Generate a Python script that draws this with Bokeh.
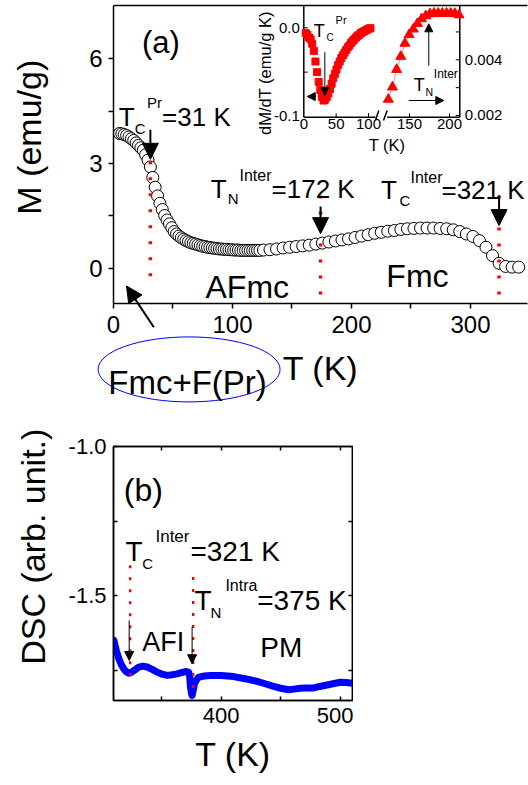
import math
from bokeh.plotting import figure
from bokeh.models import Range1d, FixedTicker, LinearAxis, Label, Arrow, NormalHead
from bokeh.layouts import column
from bokeh.embed import file_html
from bokeh.resources import INLINE
from bokeh.core.properties import value

FONT = "Liberation Sans"

# ---------------- data: panel (a)  M (emu/g) vs T (K) ----------------
T_a = [5, 7, 9, 11, 13, 15, 17, 19, 21, 23, 25, 27, 29, 31, 33, 35, 37, 39, 41, 43,
       45, 47, 49, 51, 53, 55, 57, 59, 61, 63, 65, 67, 69, 71, 73, 75, 77, 79, 81, 83,
       85, 87, 89, 91, 93, 95, 97, 99, 101, 103, 105, 107, 109, 111, 113, 115, 117, 119, 121, 123,
       126, 131.5, 137, 142.5, 148, 153.5, 159, 164.5, 170, 175.5, 181, 186.5, 192, 197.5, 203,
       208.5, 214, 219.5, 225, 230.5, 236, 241.5, 247, 252.5, 258, 263.5, 269, 274.5, 280, 285.5,
       291, 296.5, 302, 307.5, 313, 318.5, 324, 329.5, 335, 340.5]
M_a = [3.86, 3.85, 3.83, 3.80, 3.76, 3.71, 3.66, 3.59, 3.52, 3.45, 3.38, 3.25, 3.10, 2.90, 2.60, 2.32, 2.07, 1.86, 1.68, 1.51,
       1.38, 1.27, 1.16, 1.05, 0.98, 0.92, 0.87, 0.83, 0.79, 0.76, 0.73, 0.71, 0.69, 0.67, 0.65, 0.63, 0.62, 0.60, 0.59, 0.58,
       0.57, 0.56, 0.55, 0.55, 0.54, 0.54, 0.53, 0.53, 0.52, 0.52, 0.52, 0.51, 0.51, 0.51, 0.51, 0.51, 0.51, 0.51, 0.51, 0.51,
       0.52, 0.53, 0.55, 0.58, 0.60, 0.62, 0.64, 0.66, 0.69, 0.72, 0.75, 0.78, 0.81, 0.84, 0.88,
       0.92, 0.96, 1.00, 1.03, 1.06, 1.08, 1.11, 1.13, 1.14, 1.15, 1.15, 1.15, 1.14, 1.13, 1.10,
       1.05, 0.98, 0.91, 0.79, 0.60, 0.36, 0.14, 0.05, 0.03, 0.03]

# inset: dM/dT (left axis, squares) and right-axis series (triangles)
T_sq = [3, 5.5, 8, 10.5, 13, 15.5, 18, 20.5, 23, 25.5, 28, 30.5, 33, 35.5, 38, 40.5, 43, 45.5, 48, 50.5,
        53, 55.5, 58, 60.5, 63, 65.5, 68, 70.5, 73, 75.5, 78, 80.5, 83, 85.5, 88, 90.5, 93, 95.5, 98, 100.5, 103]
dMdT_sq = [-0.006, -0.008, -0.011, -0.013, -0.018, -0.026, -0.038, -0.050, -0.061, -0.070,
           -0.078, -0.082, -0.081, -0.078, -0.074, -0.069, -0.063, -0.057, -0.052, -0.047,
           -0.042, -0.038, -0.034, -0.031, -0.028, -0.025, -0.022, -0.020, -0.017, -0.015,
           -0.013, -0.011, -0.009, -0.008, -0.006, -0.005, -0.004, -0.003, -0.002, -0.001, -0.0005]
T_tri = [123.5, 128.7, 133.9, 139.1, 144.3, 149.5, 154.7, 159.9, 165.1, 170.3, 175.5, 180.7,
         185.9, 191.1, 196.3, 201.5, 206.7, 211.9]
val_tri = [0.00258, 0.00302, 0.00365, 0.00412, 0.00459, 0.00490, 0.00510, 0.00530, 0.00547, 0.00558,
           0.00565, 0.00567, 0.00567, 0.00567, 0.00567, 0.00567, 0.00566, 0.00561]

# ---------------- data: panel (b)  DSC vs T (K) ----------------
T_b = [309.8, 312, 314, 316, 318.2, 320, 322.4, 324.5, 326.6, 328.7,
       330.8, 334, 337.8, 342, 346.2, 350.4, 354.6, 358.8, 363, 366.5,
       370, 372.8, 373.6, 374.2, 375, 375.6, 376.6, 377.6, 379.4, 381.2,
       386, 391, 400, 410.6, 420, 430.3, 437, 444.2, 450, 456.8,
       461, 466.6, 472, 477.8, 483, 489.1, 495, 500.3, 505, 510.4]
DSC_b = [-1.649, -1.685, -1.710, -1.730, -1.744, -1.753, -1.759, -1.756, -1.750, -1.744,
         -1.738, -1.735, -1.738, -1.746, -1.755, -1.762, -1.766, -1.764, -1.761, -1.757,
         -1.753, -1.755, -1.770, -1.805, -1.825, -1.833, -1.815, -1.794, -1.780, -1.772,
         -1.768, -1.766, -1.766, -1.770, -1.777, -1.786, -1.794, -1.803, -1.809, -1.814,
         -1.812, -1.809, -1.808, -1.808, -1.803, -1.798, -1.793, -1.789, -1.790, -1.792]

# ticks
a_xticks, a_xminor = [0, 100, 200, 300], [50, 150, 250]
a_yticks, a_yminor = [0, 3, 6], [1.5, 4.5]
in_yL_ticks, in_yL_labels = [0.0, -0.1], ["0.0", "-0.1"]
in_yR_ticks, in_yR_labels = [0.002, 0.004], ["0.002", "0.004"]
in_xL_ticks = [0, 50, 100]
in_xR_ticks = [150, 200]
b_xticks, b_xminor = [400, 500], [350, 450]
b_yticks, b_yminor = [-1.0, -1.5], [-1.25, -1.75]

# transition temperatures marked by dotted lines
a_marks_T = [31, 174, 324]
b_marks_T = [323.5, 376.5]


def txt(p, x, y, text, size, align="left", baseline="alphabetic", angle=0,
        xr="default", yr="default", xo=0, yo=0):
    p.add_layout(Label(x=x, y=y, text=text, text_font=FONT, text_font_size=f"{size}px",
                       text_color="black", text_align=align, text_baseline=baseline,
                       angle=angle, angle_units="deg", x_offset=xo, y_offset=yo,
                       x_range_name=xr, y_range_name=yr))


def otxt(p, x, y, text, size, align="left", baseline="alphabetic", angle=0.0):
    # text outside the plotting frame: glyph at overlay level (not clipped)
    p.text(x=[x], y=[y], text=[text], angle=angle, text_font=value(FONT),
           text_font_size=value(f"{size}px"), text_color="black",
           text_align=align, text_baseline=baseline, level="overlay")


def arrow(p, x0, y0, x1, y1, head, lw, xr="default", yr="default"):
    p.add_layout(Arrow(end=NormalHead(size=head, fill_color="black", line_color="black", line_width=1),
                       x_start=x0, y_start=y0, x_end=x1, y_end=y1,
                       line_color="black", line_width=lw, x_range_name=xr, y_range_name=yr))


def style_axis(ax, size, tin, tout, standoff):
    ax.axis_line_width = 1.5
    ax.axis_line_color = "black"
    ax.major_tick_line_width = 1.5
    ax.minor_tick_line_width = 1.5
    ax.major_tick_in = tin
    ax.major_tick_out = tout
    ax.minor_tick_in = tin
    ax.minor_tick_out = tout
    ax.major_label_text_font = FONT
    ax.major_label_text_font_size = f"{size}px"
    ax.major_label_text_color = "black"
    ax.major_label_standoff = standoff


def style_label(ax, size, standoff):
    ax.axis_label_text_font = FONT
    ax.axis_label_text_font_size = f"{size}px"
    ax.axis_label_text_font_style = "normal"
    ax.axis_label_text_color = "black"
    ax.axis_label_standoff = standoff


# ======================= panel (a) =======================
pa = figure(width=528, height=404, output_backend="svg", toolbar_location=None,
            x_range=Range1d(0, 347.9), y_range=Range1d(-1.0115, 7.527),
            min_border_left=113, min_border_right=1, min_border_top=5, min_border_bottom=101)
pa.grid.visible = False
pa.outline_line_color = None
pa.xaxis.ticker = FixedTicker(ticks=a_xticks, minor_ticks=a_xminor)
pa.yaxis.ticker = FixedTicker(ticks=a_yticks, minor_ticks=a_yminor)
style_axis(pa.xaxis[0], 24, 0, 5, 7)
style_axis(pa.yaxis[0], 24, 0, 5, 6)
pa.xaxis.axis_label = "T (K)"
style_label(pa.xaxis[0], 34, 13)
top_a = LinearAxis(ticker=FixedTicker(ticks=[], minor_ticks=[]))
style_axis(top_a, 1, 0, 0, 0)
pa.add_layout(top_a, "above")

# inset scales (drawn inside the main frame through extra ranges)
pa.extra_x_ranges = {"inL": Range1d(-294.13, 345.75), "inR": Range1d(-220.0, 297.5)}
pa.extra_y_ranges = {"inYL": Range1d(-0.31083, 0.025141), "inYR": Range1d(-0.0047504, 0.0059497)}

pa.scatter(T_a, M_a, marker="circle", size=12, fill_color="white", line_color="black", line_width=1)
pa.segment(x0=a_marks_T, y0=[3.52, 2.08, 2.08], x1=a_marks_T, y1=[-0.26, -0.78, -0.78],
           line_color="#ff0000", line_width=3.5, line_dash="3 13")

arrow(pa, 31, 3.97, 31, 3.12, 16, 2)
arrow(pa, 174, 1.77, 174, 0.99, 16, 2)
arrow(pa, 324, 2.08, 324, 1.22, 16, 2)
# arrow from the ellipse label up to the low-T data (crosses the axis: overlay glyphs)
pa.segment(x0=[33.9], y0=[-1.69], x1=[18.36], y1=[-0.892], line_color="black", line_width=2, level="overlay")
pa.patch(x=[10.92, 23.95, 12.77], y=[-0.510, -0.765, -1.020], fill_color="black", line_color="black",
         level="overlay")

pa.ellipse(x=[63.5], y=[-2.90], width=182, height=65, width_units="screen", height_units="screen",
           fill_color=None, line_color="#0000ff", line_width=1, level="overlay")

txt(pa, 23.9, 6.48, "(a)", 31)
txt(pa, 4.4, 4.33, "T", 26); txt(pa, 17.9, 4.0, "C", 15); txt(pa, 28.1, 4.75, "Pr", 15)
txt(pa, 40.8, 4.33, "=31 K", 26)
txt(pa, 81.8, 2.28, "T", 26); txt(pa, 96.0, 2.0, "N", 15); txt(pa, 105.9, 2.66, "Inter", 16)
txt(pa, 132.8, 2.28, "=172 K", 26)
txt(pa, 224.7, 2.23, "T", 26); txt(pa, 240.3, 1.94, "C", 15); txt(pa, 249.6, 2.6, "Inter", 16)
txt(pa, 275.6, 2.23, "=321 K", 26)
txt(pa, 77.3, -0.55, "AFmc", 32)
txt(pa, 229.3, -0.21, "Fmc", 32)
otxt(pa, -4.4, -3.27, "Fmc+F(Pr)", 33)
otxt(pa, -70.9, 3.754, "M (emu/g)", 34, align="center", baseline="middle", angle=math.pi / 2)

# ---- inset ----
IL_BOT, IL_TOP = -0.10079, 0.025141
IR_BOT, IR_TOP, IR_RIGHT = 0.0019390, 0.0059497, 212.875
L = dict(x_range_name="inL", y_range_name="inYL")
R = dict(x_range_name="inR", y_range_name="inYR")
pa.segment(x0=[0, 0, 110.8], y0=[IL_BOT, IL_BOT, -0.1045],
           x1=[0, 110.8, 115.9], y1=[IL_TOP, IL_BOT, -0.0932],
           line_color="black", line_width=1.5, **L)
pa.segment(x0=[IR_RIGHT, 122.1, 117.5], y0=[IR_BOT, IR_BOT, 0.0018205],
           x1=[IR_RIGHT, IR_RIGHT, 122.1], y1=[IR_TOP, IR_BOT, 0.0021795],
           line_color="black", line_width=1.5, **R)
# inset ticks (pointing inward, 4 px)
pa.segment(x0=[0, 0], y0=[0.0, -0.05], x1=[6.18, 6.18], y1=[0.0, -0.05], line_color="black", line_width=1, **L)
pa.segment(x0=in_xL_ticks[1:], y0=[IL_BOT] * 2, x1=in_xL_ticks[1:], y1=[IL_BOT + 0.00451] * 2,
           line_color="black", line_width=1, **L)
pa.segment(x0=[IR_RIGHT] * 4, y0=[0.002, 0.003, 0.004, 0.005], x1=[IR_RIGHT - 5] * 4,
           y1=[0.002, 0.003, 0.004, 0.005], line_color="black", line_width=1, **R)
pa.segment(x0=in_xR_ticks, y0=[IR_BOT] * 2, x1=in_xR_ticks, y1=[IR_BOT + 0.0001436] * 2,
           line_color="black", line_width=1, **R)

pa.scatter(T_sq, dMdT_sq, marker="square", size=7, fill_color="#ff0000", line_color="#ff0000", **L)
pa.line(T_tri, val_tri, line_color="#ff9090", line_width=1, **R)
pa.scatter(T_tri, val_tri, marker="triangle", size=10, fill_color="#ff0000", line_color="#ff0000", **R)

for v, s in zip(in_yL_ticks, in_yL_labels):
    txt(pa, 0, v, s, 15, align="right", baseline="middle", xo=-4, xr="inL", yr="inYL")
for v, s in zip(in_yR_ticks, in_yR_labels):
    txt(pa, IR_RIGHT, v, s, 15, align="left", baseline="middle", xo=5, xr="inR", yr="inYR")
for t in in_xL_ticks:
    txt(pa, t, IL_BOT, str(t), 15, align="center", baseline="top", yo=-2, xr="inL", yr="inYL")
for t in in_xR_ticks:
    txt(pa, t, IR_BOT, str(t), 15, align="center", baseline="top", yo=-2, xr="inR", yr="inYR")

txt(pa, 126.9, 5.59, "dM/dT (emu/g K)", 16.5, align="center", baseline="middle", angle=90)
txt(pa, 229.8, 3.52, "T (K)", 16.5, align="center")
txt(pa, 168.3, 6.81, "T", 18); txt(pa, 179.0, 6.62, "C", 10); txt(pa, 186.6, 7.12, "Pr", 11)
txt(pa, 252.4, 5.235, "T", 18); txt(pa, 262.2, 5.04, "N", 10.5); txt(pa, 269.2, 5.55, "Inter", 12)

arrow(pa, 32.5, -0.0275, 32.5, -0.0763, 8, 1, xr="inL", yr="inYL")
arrow(pa, 18.1, -0.0775, 5.3, -0.0775, 8, 1, xr="inL", yr="inYL")
arrow(pa, 174.1, 0.003795, 174.1, 0.005293, 8, 1, xr="inR", yr="inYR")
arrow(pa, 149.1, 0.002539, 192.9, 0.002539, 8, 1, xr="inR", yr="inYR")

# ======================= panel (b) =======================
pb = figure(width=353, height=381, output_backend="svg", toolbar_location=None,
            x_range=Range1d(309.5, 510.5), y_range=Range1d(-1.85, -1.0),
            min_border_left=113, min_border_right=1, min_border_top=42, min_border_bottom=85)
pb.grid.visible = False
pb.outline_line_color = "black"
pb.outline_line_width = 1.5
pb.xaxis.ticker = FixedTicker(ticks=b_xticks, minor_ticks=b_xminor)
pb.yaxis.ticker = FixedTicker(ticks=b_yticks, minor_ticks=b_yminor)
pb.yaxis.major_label_overrides = {-1.0: "-1.0", -1.5: "-1.5"}
style_axis(pb.xaxis[0], 22, 4, 0, 7)
style_axis(pb.yaxis[0], 22, 4, 0, 7)
pb.xaxis.axis_label = "T (K)"
style_label(pb.xaxis[0], 34, 9)

top_ax = LinearAxis(ticker=FixedTicker(ticks=[], minor_ticks=b_xminor + b_xticks))
style_axis(top_ax, 1, 4, 0, 0)
pb.add_layout(top_ax, "above")
right_ax = LinearAxis(ticker=FixedTicker(ticks=[], minor_ticks=b_yminor + [-1.5]))
style_axis(right_ax, 1, 4, 0, 0)
pb.add_layout(right_ax, "right")

pb.line(T_b, DSC_b, line_color="#0000ff", line_width=7, line_join="round", line_cap="round")
pb.segment(x0=b_marks_T, y0=[-1.397, -1.437], x1=b_marks_T, y1=[-1.789, -1.822],
           line_color="#ff0000", line_width=2.5, line_dash="3 9")
arrow(pb, 322.7, -1.582, 322.7, -1.716, 9, 1)
arrow(pb, 375.6, -1.604, 375.6, -1.727, 9, 1)

txt(pb, 318.2, -1.1459, "(b)", 32)
txt(pb, 319.6, -1.3528, "T", 28); txt(pb, 333.6, -1.3917, "C", 15); txt(pb, 344.8, -1.3025, "Inter", 17)
txt(pb, 374.2, -1.3528, "=321 K", 28)
txt(pb, 377.6, -1.5148, "T", 28); txt(pb, 391.0, -1.554, "N", 15); txt(pb, 403.6, -1.4645, "Intra", 16)
txt(pb, 430.3, -1.5148, "=375 K", 28)
txt(pb, 333.6, -1.6546, "AFI", 27)
txt(pb, 433.0, -1.6714, "PM", 28)
otxt(pb, 242.1, -1.3353, "DSC (arb. unit.)", 34, align="center", baseline="middle", angle=math.pi / 2)

layout = column(pa, pb)
open("out.html", "w").write(file_html(layout, INLINE, title="M and DSC vs T"))
